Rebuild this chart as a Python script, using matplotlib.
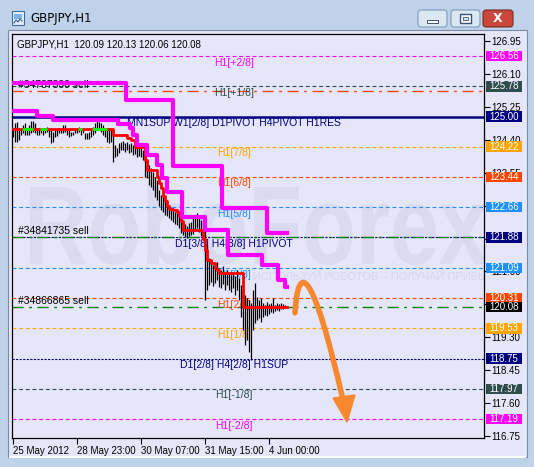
import numpy as np
import matplotlib
matplotlib.use('Agg')
import matplotlib.pyplot as plt
import matplotlib.transforms as mtransforms
from matplotlib.patches import Rectangle, FancyBboxPatch, Polygon, PathPatch
from matplotlib.path import Path
from matplotlib.textpath import TextPath
from matplotlib.font_manager import FontProperties
from matplotlib.colors import LinearSegmentedColormap

plt.rcParams['font.family'] = ['Liberation Sans', 'DejaVu Sans']

# ---- data (H1 bars, index = bar number from 25 May 2012) ----
highs = [124.70, 124.83, 124.87, 124.65, 124.70, 124.78, 124.83, 124.70, 124.78, 124.89,
         124.89, 124.83, 124.70, 124.65, 124.65, 124.70, 124.70, 124.74, 124.67, 124.65,
         124.61, 124.65, 124.65, 124.70, 124.70, 124.78, 124.78, 124.65, 124.65, 124.61,
         124.61, 124.67, 124.70, 124.74, 124.70, 124.65, 124.57, 124.57, 124.61, 124.70,
         124.74, 124.83, 124.95, 124.87, 124.83, 124.78, 124.70, 124.65, 124.65,
         124.70, 124.58, 124.27, 124.19, 124.32, 124.34, 124.37, 124.32, 124.34, 124.29,
         124.32, 124.27, 124.24, 124.21, 124.19, 124.21, 124.14, 124.06, 123.88, 123.75,
         123.67, 123.57, 123.44, 123.36, 123.10, 122.97, 122.92, 122.84, 122.77, 122.72,
         122.66, 122.59, 122.53, 122.51, 122.46, 122.33, 122.28, 122.22, 122.17, 122.25,
         122.28, 122.38, 122.46, 122.51, 122.43, 122.33, 122.28, 122.12, 121.68, 121.35,
         121.24, 121.17, 121.14, 121.24, 121.09, 121.04, 121.14, 120.99, 121.04, 120.96,
         120.91, 120.99, 120.88, 121.04, 120.83, 120.65, 120.52, 120.39, 120.31, 120.26,
         120.19, 120.52, 120.70, 120.34, 120.26, 120.31, 120.19, 120.13, 120.21, 120.16,
         120.19, 120.31, 120.13, 120.19, 120.16, 120.19, 120.16, 120.13]
lows = [124.48, 124.35, 124.35, 124.39, 124.52, 124.57, 124.52, 124.52, 124.52, 124.57,
        124.61, 124.57, 124.52, 124.52, 124.57, 124.52, 124.57, 124.61, 124.48, 124.32,
        124.35, 124.48, 124.50, 124.57, 124.57, 124.57, 124.61, 124.52, 124.48, 124.50,
        124.52, 124.57, 124.57, 124.61, 124.52, 124.57, 124.41, 124.41, 124.41, 124.48,
        124.52, 124.57, 124.65, 124.70, 124.61, 124.52, 124.48, 124.35, 124.32,
        124.34, 123.83, 123.96, 123.98, 124.06, 124.14, 124.14, 124.08, 124.14, 124.06,
        124.08, 124.01, 124.03, 123.96, 123.98, 123.96, 123.88, 123.44, 123.41, 123.23,
        123.18, 123.10, 122.92, 122.84, 122.69, 122.59, 122.53, 122.46, 122.43, 122.38,
        122.33, 122.28, 122.22, 122.20, 122.12, 121.99, 121.94, 121.89, 121.86, 121.91,
        121.94, 121.97, 122.07, 122.12, 122.02, 121.91, 121.81, 120.26, 120.52, 120.65,
        120.73, 120.63, 120.70, 120.78, 120.60, 120.57, 120.68, 120.52, 120.65, 120.52,
        120.47, 120.57, 120.39, 120.52, 120.26, 119.83, 119.49, 119.11, 119.23, 118.92,
        118.71, 119.49, 119.67, 119.75, 119.80, 119.70, 119.83, 119.88, 119.85, 119.91,
        119.96, 119.93, 119.98, 120.01, 119.98, 120.03, 120.03, 120.06]

# red/green trend line (stepped)
red_idx = [0, 50, 57, 59, 61, 66, 67, 72, 73, 74, 75, 76, 77, 78, 80, 82, 83, 84, 85,
           95, 96, 97, 99, 101, 102, 103, 115, 137]
red_val = [124.68, 124.52, 124.45, 124.39, 124.21, 123.88, 123.62, 123.45, 123.28, 123.15,
           122.95, 122.82, 122.70, 122.62, 122.59, 122.53, 122.42, 122.30, 122.07,
           121.85, 121.55, 121.30, 121.22, 121.10, 121.04, 120.96, 120.08, 120.08]
green_start = [4.5, 13.5, 32.5, 39.5]
green_end = [10, 17, 34.5, 47]
green_val = 124.68

# two magenta stepped lines
mag1_idx = [0, 56.5, 80, 104.5, 127, 137]
mag1_val = [125.87, 125.43, 123.72, 122.64, 121.99, 121.99]
mag2_idx = [0, 12, 20, 52.5, 58.5, 60, 62, 67, 72, 74.5, 77, 84.5, 96, 107.5, 124.5,
            132.5, 136, 137]
mag2_val = [125.14, 125.01, 124.91, 124.81, 124.70, 124.52, 124.27, 124.01, 123.75, 123.41,
            123.05, 122.41, 122.07, 121.42, 121.17, 120.78, 120.60, 120.60]

# Murrey levels
levels = [126.56, 125.78, 125.00, 124.22, 123.44, 122.66, 121.88, 121.09, 120.31, 119.53,
          118.75, 117.97, 117.19]
level_labels = ['H1[+2/8]', 'H1[+1/8]', 'MN1SUP W1[2/8] D1PIVOT H4PIVOT H1RES', 'H1[7/8]',
                'H1[6/8]', 'H1[5/8]', 'D1[3/8] H4[3/8] H1PIVOT', 'H1[3/8]', 'H1[2/8]',
                'H1[1/8]', 'D1[2/8] H4[2/8] H1SUP', 'H1[-1/8]', 'H1[-2/8]']
level_colors = ['magenta', 'darkslategray', 'navy', 'orange', 'orangered', 'dodgerblue',
                'navy', 'dodgerblue', 'orangered', 'orange', 'navy', 'darkslategray', 'magenta']
level_styles = ['dash', 'dash', 'solid', 'dash', 'dash', 'dash', 'dot', 'dash', 'dash',
                'dash', 'dot', 'dash', 'dash']

# open orders
order_prices = [125.66, 121.90, 120.09]
order_labels = ['#34787330 sell', '#34841735 sell', '#34866865 sell']
order_colors = ['orangered', 'green', 'green']

bid = 120.08
yticks = [126.95, 126.10, 125.25, 124.40, 123.55, 122.70, 121.85, 121.00, 120.15,
          119.30, 118.45, 117.60, 116.75]
xtick_idx = [0, 32, 64, 96, 128]
xtick_labels = ['25 May 2012', '28 May 23:00', '30 May 07:00', '31 May 15:00', '4 Jun 00:00']

# forecast arrow (bezier control points + head)
arrow_x = [141, 142.5, 149.5, 165]
arrow_y = [119.93, 121.24, 121.17, 117.68]
head_x = [160, 167, 171]
head_y = [117.73, 117.11, 117.81]

# ---- figure / window chrome ----
W, H = 534, 467
fig = plt.figure(figsize=(W / 100, H / 100), dpi=100)
bg = fig.add_axes([0, 0, 1, 1])
bg.set_xlim(0, W)
bg.set_ylim(H, 0)
bg.axis('off')
bg.add_patch(Rectangle((0, 0), W, H, color='#bed3ea'))
cm = LinearSegmentedColormap.from_list('title', ['#d4e3f4', '#b9d0ea'])
bg.imshow(np.linspace(0, 1, 30)[:, None], extent=(0, W, 30, 0), cmap=cm, aspect='auto')
bg.add_patch(Rectangle((8, 30), 519, 427, fc='#e6e6fa', ec='#7d8ba0', lw=0.8))
bg.add_patch(Rectangle((9, 455.5), 517, 2, fc='white', ec='none'))
# icon
bg.add_patch(Rectangle((12, 11), 12, 14, fc='#e8f0fa', ec='#3a6ea5', lw=0.8))
bg.add_patch(Rectangle((14, 14), 8, 5, fc='#7fb1e6', ec='none'))
bg.plot([14, 16, 18, 20, 22], [23, 20, 22, 19, 21], color='#2a5d9a', lw=0.8)
bg.text(30, 18.5, 'GBPJPY,H1', fontsize=8.5, va='center', ha='left', color='black',
        family=['DejaVu Sans'])
# buttons
for bx in (418, 451):
    bg.add_patch(FancyBboxPatch((bx, 10), 29, 17, boxstyle='round,pad=0,rounding_size=3',
                                fc='#dce7f4', ec='#7f99ba', lw=0.8))
bg.add_patch(Rectangle((427, 19.5), 11, 3, fc='white', ec='#3d5270', lw=0.7))
bg.add_patch(Rectangle((460, 13.5), 11, 9, fc='white', ec='#3d5270', lw=1.0))
bg.add_patch(Rectangle((463, 16.5), 5, 3, fc='#dce7f4', ec='#3d5270', lw=0.6))
bg.add_patch(FancyBboxPatch((483, 10), 30, 17, boxstyle='round,pad=0,rounding_size=3',
                            fc='#c9473b', ec='#7b2a22', lw=0.8))
bg.text(498, 18.8, 'X', fontsize=9, weight='bold', ha='center', va='center', color='white',
        family=['DejaVu Sans'])

# ---- chart ----
ax = fig.add_axes([12 / W, (H - 438) / H, 472 / W, 404 / H])
ax.set_facecolor('#e6e6fa')
ax.set_xlim(-0.5, 235.5)
ax.set_ylim(116.70, 127.13)
for s in ax.spines.values():
    s.set_color('black')
    s.set_linewidth(0.9)

# watermark
fp = FontProperties(family='Liberation Sans', weight='bold')
tp = TextPath((0, 0), 'RoboForex', size=100, prop=fp)
ext = tp.get_extents()
sx = 228.5 / ext.width
sy = 2.12 / ext.height
wm = mtransforms.Affine2D().translate(-ext.x0, -ext.y0).scale(sx, sy).translate(8.5, 121.17)
ax.add_patch(PathPatch(wm.transform_path(tp), fc='#dadaf0', ec='none', zorder=0.5))
ax.text(120, 120.86, 'ИСПОЛЬЗУЙ РОБОТОВ – ПОЛУЧАЙ ПРИБЫЛЬ', fontsize=8, color='#d6d6ee',
        va='center', ha='left', zorder=0.6, clip_on=True)

# level lines
for p, c, st in zip(levels, level_colors, level_styles):
    if st == 'solid':
        ax.axhline(p, color=c, lw=1.8, zorder=1)
    elif st == 'dot':
        ax.axhline(p, color=c, lw=0.8, dashes=(2, 1.2), zorder=1)
    else:
        ax.axhline(p, color=c, lw=0.8, dashes=(3.5, 2.5), zorder=1)

# order lines
for p, c in zip(order_prices, order_colors):
    ax.axhline(p, color=c, lw=1.0, dashes=(8, 4, 2, 4), zorder=1.2)

for p, lab, c in zip(levels, level_labels, level_colors):
    ax.text(110.5, p - 0.04, lab, color=c, fontsize=7.5, ha='center', va='top', zorder=2)
for p, lab in zip(order_prices, order_labels):
    ax.text(2.5, p + 0.07, lab, color='black', fontsize=7.5, ha='left', va='baseline',
            zorder=2)

# bars
idx = np.arange(len(highs))
ax.vlines(idx, lows, highs, colors='black', lw=0.9, zorder=3)

# indicators
ax.step(red_idx, red_val, where='post', color='red', lw=2.0, zorder=4)
ax.hlines([green_val] * len(green_start), green_start, green_end, color='lime', lw=2.0,
          zorder=4.5)
ax.step(mag1_idx, mag1_val, where='post', color='magenta', lw=3.0, zorder=5)
ax.step(mag2_idx, mag2_val, where='post', color='magenta', lw=3.0, zorder=5)

# forecast arrow
verts = list(zip(arrow_x, arrow_y))
curve = Path(verts, [Path.MOVETO, Path.CURVE4, Path.CURVE4, Path.CURVE4])
ax.add_patch(PathPatch(curve, fc='none', ec='#f7882f', lw=4.0, capstyle='round', zorder=7))
ax.add_patch(Polygon(list(zip(head_x, head_y)), closed=True, fc='#f7882f', ec='#f7882f',
                     lw=1, zorder=7))

# chart title
ax.text(0.011, 0.975, 'GBPJPY,H1  120.09 120.13 120.06 120.08', transform=ax.transAxes,
        fontsize=7, ha='left', va='center', color='black', zorder=8)

# axes ticks
ax.yaxis.tick_right()
ax.set_yticks(yticks)
ax.set_yticklabels(['%.2f' % v for v in yticks])
ax.tick_params(axis='y', length=4, width=0.8, pad=1.5, labelsize=7, colors='black')
ax.set_xticks(xtick_idx)
ax.set_xticklabels(xtick_labels, ha='left')
ax.tick_params(axis='x', length=4, width=0.8, pad=2, labelsize=7, colors='black')

# price boxes on the axis
trans = mtransforms.blended_transform_factory(ax.transAxes, ax.transData)
hh = 5.3 / 38.73
box_prices = levels + [bid]
box_colors = level_colors + ['black']
for p, c in zip(box_prices, box_colors):
    ax.add_patch(Rectangle((1.0042, p - hh), 0.0763, 2 * hh, transform=trans, fc=c,
                           ec='none', clip_on=False, zorder=10))
    ax.text(1.0423, p, '%.2f' % p, transform=trans, ha='center', va='center', color='white',
            fontsize=7, clip_on=False, zorder=11)

fig.savefig('out.png', dpi=100)
